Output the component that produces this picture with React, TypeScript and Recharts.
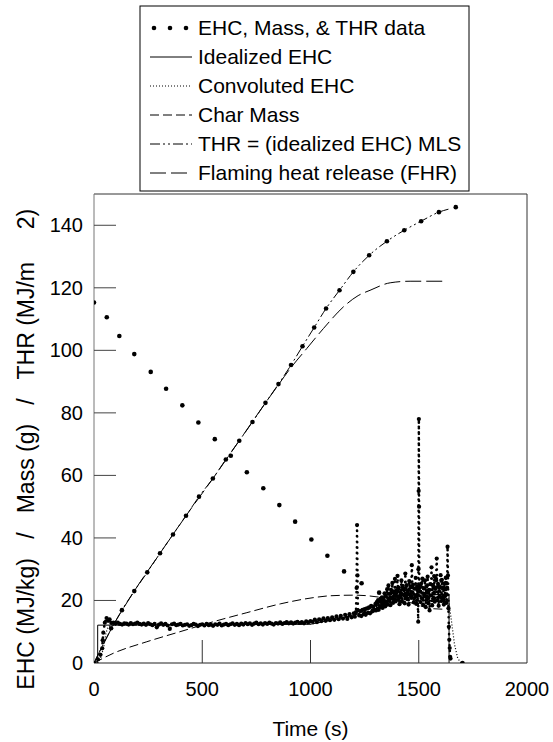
import React from 'react';
import { ComposedChart, Line, Scatter, XAxis, YAxis, ReferenceLine } from 'recharts';

const FONT = 'Arial, "Liberation Sans", Helvetica, sans-serif';

const timeTicks = [0, 500, 1000, 1500, 2000];
const valueTicks = [0, 20, 40, 60, 80, 100, 120, 140];

// measured EHC (MJ/kg) as [time, value]
const ehcPoints: [number, number][] = [
  [0, 0], [18, 1.2], [30, 2.6], [38, 4.7], [40, 7.3], [43, 9.7], [50, 12.9], [58, 14.4], [65, 13.5], [72, 14.0],
  [80, 12.8], [90, 12.9], [100, 12.6], [110, 12.9], [120, 12.5], [130, 12.3], [140, 12.7], [150, 12.6], [160, 12.3],
  [170, 12.8], [180, 12.4], [190, 12.6], [200, 12.9], [210, 12.5], [220, 12.3], [230, 12.6], [240, 12.2], [250, 12.8],
  [260, 12.4], [270, 12.1], [280, 12.5], [290, 11.4], [300, 12.3], [310, 12.7], [320, 12.2], [330, 12.5], [340, 12.0],
  [350, 10.9], [360, 12.4], [370, 12.6], [380, 12.1], [390, 12.3], [400, 12.5], [410, 12.0], [420, 12.2], [430, 12.4],
  [440, 11.9], [450, 12.1], [460, 12.5], [470, 12.3], [480, 11.8], [490, 12.2], [500, 12.4], [510, 12.0], [520, 12.5],
  [530, 12.1], [540, 12.3], [550, 11.9], [560, 12.4], [570, 12.2], [580, 12.6], [590, 12.0], [600, 12.3], [610, 12.5],
  [620, 12.1], [630, 12.4], [640, 12.7], [650, 12.2], [660, 12.5], [670, 12.1], [680, 12.6], [690, 12.3], [700, 12.8],
  [710, 12.4], [720, 12.7], [730, 12.2], [740, 12.6], [750, 12.9], [760, 12.4], [770, 12.7], [780, 12.3], [790, 12.8],
  [800, 12.5], [810, 12.9], [820, 12.6], [830, 12.3], [840, 12.8], [850, 12.6], [860, 13.0], [870, 12.5], [880, 12.8],
  [890, 13.1], [900, 12.7], [910, 13.0], [920, 12.6], [930, 12.9], [940, 13.2], [950, 12.8], [960, 13.1], [970, 12.7],
  [980, 13.3], [990, 13.0], [1000, 13.4], [1010, 13.2], [1020, 13.9], [1030, 13.1], [1040, 14.0], [1050, 13.4],
  [1060, 14.3], [1070, 13.5], [1080, 14.4], [1090, 13.7], [1100, 14.6], [1110, 13.8], [1120, 14.9], [1130, 14.0],
  [1140, 15.1], [1150, 14.2], [1160, 15.4], [1170, 14.1], [1180, 15.6], [1190, 14.6], [1200, 15.9], [1205, 14.8],
  [1210, 16.3], [1213, 24.0], [1215, 44.1], [1217, 28.0], [1219, 16.8], [1225, 15.2], [1230, 16.6], [1235, 15.0],
  [1240, 17.0], [1245, 15.6], [1250, 17.2], [1255, 15.4], [1260, 17.5], [1265, 16.0], [1270, 17.8], [1275, 15.9],
  [1280, 18.3], [1285, 16.5], [1290, 18.0], [1295, 16.8],
  [1300, 18.9], [1303, 16.8], [1306, 19.5], [1309, 17.3], [1312, 20.1], [1315, 17.0], [1318, 19.8], [1321, 17.9],
  [1324, 20.6], [1327, 18.2], [1330, 21.0], [1333, 17.6], [1336, 20.4], [1339, 18.8], [1342, 22.3], [1345, 18.1],
  [1348, 21.5], [1351, 19.4], [1354, 23.6], [1357, 18.7], [1360, 24.8], [1363, 19.9], [1366, 22.1], [1369, 18.5],
  [1372, 23.4], [1375, 20.6], [1378, 25.6], [1381, 19.2], [1384, 22.8], [1387, 20.1], [1390, 26.9], [1393, 19.7],
  [1396, 23.2], [1399, 21.4], [1402, 27.9], [1405, 20.2], [1408, 24.1], [1411, 18.8], [1414, 22.6], [1417, 20.9],
  [1420, 26.4], [1423, 19.6], [1426, 24.7], [1429, 21.8], [1432, 23.3], [1435, 19.1], [1438, 28.6], [1441, 21.2],
  [1444, 24.9], [1447, 20.4], [1450, 23.1], [1453, 18.7], [1456, 26.2], [1459, 21.9], [1462, 24.4], [1465, 20.8],
  [1468, 31.3], [1471, 22.6], [1474, 25.1], [1477, 19.4], [1480, 23.8], [1483, 21.0], [1486, 27.2], [1489, 18.9],
  [1492, 24.6], [1495, 21.7], [1497.5, 13.2], [1498.5, 30.0], [1499.5, 55.0], [1500.5, 78.0], [1501.5, 50.0],
  [1502.5, 24.0], [1505, 22.8], [1508, 19.5], [1511, 25.4], [1514, 20.7], [1517, 27.0], [1520, 18.6], [1523, 23.9],
  [1526, 21.3], [1529, 26.4], [1532, 17.9], [1535, 24.5], [1538, 20.2], [1541, 27.6], [1544, 19.1], [1547, 23.4],
  [1550, 16.8], [1553, 25.2], [1556, 21.6], [1559, 30.6], [1562, 18.4], [1565, 24.9], [1568, 20.7], [1571, 27.8],
  [1574, 19.6], [1577, 23.7], [1580, 26.9], [1583, 33.4], [1586, 20.1], [1589, 25.3], [1592, 18.3], [1595, 24.0],
  [1598, 21.2], [1601, 28.1], [1604, 19.8], [1607, 26.6], [1610, 20.9], [1613, 24.2], [1616, 18.7], [1619, 25.5],
  [1622, 21.4], [1625, 27.3], [1628, 19.2], [1631, 24.1], [1633, 37.2], [1635, 28.0], [1637, 17.5], [1639, 11.6],
  [1641, 7.4], [1643, 4.8], [1645, 2.0], [1647, 1.4],
];

// specimen mass (g)
const massTime = [0, 59, 117, 186, 262, 333, 408, 482, 558, 632, 706, 782, 856, 929, 1004, 1078, 1155, 1236, 1317, 1390, 1465, 1540, 1615, 1702];
const massValue = [115.3, 110.6, 104.6, 98.8, 93.1, 87.7, 82.4, 76.9, 71.6, 66.3, 61.0, 55.9, 50.5, 45.2, 39.5, 34.3, 29.3, 25.5, 22.5, 21.8, 21.3, 20.8, 20.3, 0];

// total heat release (MJ/m2), measured points
const thrTime = [0, 79, 129, 186, 246, 305, 365, 425, 485, 549, 609, 671, 732, 792, 852, 910, 963, 1017, 1072, 1134, 1198, 1271, 1353, 1433, 1511, 1593, 1671];
const thrValue = [0, 11.1, 16.9, 23.0, 29.0, 35.1, 41.1, 47.1, 53.2, 59.0, 65.1, 71.1, 77.1, 83.2, 89.2, 95.3, 101.3, 107.3, 113.4, 119.2, 125.1, 130.4, 134.9, 138.4, 141.3, 144.2, 145.8];

// THR model line = (idealized EHC) x MLS
const thrModelTime = [0, 79, 129, 186, 246, 305, 365, 425, 485, 549, 609, 671, 732, 792, 852, 910, 963, 1017, 1072, 1134, 1198, 1271, 1353, 1433, 1511, 1593, 1640];
const thrModelValue = [0, 10.8, 16.9, 23.0, 29.0, 35.1, 41.1, 47.1, 53.2, 59.0, 65.1, 71.1, 77.1, 83.2, 89.2, 95.3, 101.3, 107.3, 113.4, 119.2, 125.1, 130.4, 134.9, 138.4, 141.3, 144.2, 145.2];

// flaming heat release
const fhrTime = [0, 79, 186, 305, 425, 549, 671, 792, 852, 900, 983, 1060, 1160, 1220, 1275, 1368, 1460, 1620];
const fhrValue = [0, 10.8, 23.0, 35.1, 47.1, 59.0, 71.1, 83.2, 89.0, 93.6, 100.6, 107.0, 114.4, 117.5, 119.2, 121.6, 122.1, 122.1];

// idealized EHC (pulse, runs inside the data band late in the test)
const idealTime = [0, 17, 17, 1000, 1100, 1200, 1300, 1400, 1640, 1640];
const idealValue = [0, 0, 12.1, 12.4, 13.8, 15.2, 18.2, 21.5, 22.0, 0];

// convoluted EHC
const convTime = [17, 30, 45, 55, 65, 80, 1000, 1100, 1200, 1300, 1400, 1635, 1650, 1665, 1680, 1695];
const convValue = [0, 1.5, 5.0, 9.5, 11.6, 12.1, 12.4, 13.8, 15.2, 18.2, 21.5, 22.0, 14.0, 6.0, 1.5, 0];

// char mass (g)
const charTime = [0, 89, 244, 397, 551, 706, 860, 1013, 1091, 1206, 1353, 1450, 1560, 1620];
const charValue = [0, 3.1, 6.8, 10.0, 13.2, 16.1, 18.9, 20.9, 21.5, 21.7, 20.7, 19.5, 17.4, 17.2];

const zip = (ts: number[], vs: number[]) => ts.map((t, i) => ({ t, v: vs[i] }));

const ehcData = ehcPoints.map(([t, v]) => ({ t, v }));
const massData = zip(massTime, massValue);
const thrData = zip(thrTime, thrValue);
const thrModelData = zip(thrModelTime, thrModelValue);
const fhrData = zip(fhrTime, fhrValue);
const idealData = zip(idealTime, idealValue);
const convData = zip(convTime, convValue);
const charData = zip(charTime, charValue);

const legendItems = [
  { label: 'EHC, Mass, & THR data', dash: 'dots' },
  { label: 'Idealized EHC', dash: '' },
  { label: 'Convoluted EHC', dash: '1 2' },
  { label: 'Char Mass', dash: '9 4' },
  { label: 'THR = (idealized EHC) MLS', dash: '10 3 2 3 2 3' },
  { label: 'Flaming heat release (FHR)', dash: '16 5' },
];

function TimeTick({ x, y, payload }: any) {
  return (
    <g>
      {payload.value > 0 && payload.value < 2000 && (
        <line x1={x} y1={y} x2={x} y2={y - 23} stroke="#333" />
      )}
      <text x={x} y={y + 33} textAnchor="middle" fontSize={20} fontFamily={FONT} fill="#000">
        {payload.value}
      </text>
    </g>
  );
}

function ValueTick({ x, y, payload }: any) {
  return (
    <g>
      {payload.value > 0 && <line x1={x} y1={y} x2={x + 22} y2={y} stroke="#444" />}
      <text x={x - 11} y={y + 7} textAnchor="end" fontSize={20} fontFamily={FONT} fill="#000">
        {payload.value}
      </text>
    </g>
  );
}

const dotShape = (p: any) => <circle cx={p.cx} cy={p.cy} r={2.3} fill="#000" />;

function Overlay() {
  return (
    <svg width={553} height={742} style={{ position: 'absolute', left: 0, top: 0, pointerEvents: 'none' }}>
      {/* legend */}
      <rect x={140} y={6} width={329} height={185} fill="#fff" stroke="#000" strokeWidth={1} />
      {legendItems.map((item, i) => {
        const cy = 28 + i * 29;
        return (
          <g key={item.label}>
            {item.dash === 'dots' ? (
              [154, 170, 186].map((cx) => <circle key={cx} cx={cx} cy={cy} r={2.3} fill="#000" />)
            ) : (
              <line x1={150} y1={cy} x2={192} y2={cy} stroke="#000" strokeWidth={1} strokeDasharray={item.dash || undefined} />
            )}
            <text x={198} y={cy + 7} fontSize={21} fontFamily={FONT} fill="#000">
              {item.label}
            </text>
          </g>
        );
      })}
      {/* y axis title */}
      <text
        transform="translate(34,262) rotate(-90)"
        textAnchor="end"
        fontSize={23}
        fontFamily={FONT}
        fill="#000"
        style={{ whiteSpace: 'pre' }}
      >
        {'EHC (MJ/kg)   /   Mass (g)   /   THR (MJ/m'}
      </text>
      <text transform="translate(34,219) rotate(-90)" textAnchor="middle" fontSize={23} fontFamily={FONT} fill="#000">
        2)
      </text>
    </svg>
  );
}

export default function App() {
  return (
    <div style={{ position: 'absolute', left: 0, top: 0, width: 553, height: 742, background: '#fff' }}>
      <ComposedChart width={553} height={742} margin={{ top: 194, right: 26, bottom: 0, left: 0 }}>
        <XAxis
          type="number"
          dataKey="t"
          domain={[0, 2000]}
          ticks={timeTicks}
          allowDataOverflow
          height={79}
          tickSize={0}
          tickMargin={0}
          tickLine={false}
          axisLine={{ stroke: '#222' }}
          tick={<TimeTick />}
          label={{ value: 'Time (s)', position: 'insideBottom', offset: 6, fontSize: 21, fontFamily: FONT, fill: '#000' }}
        />
        <YAxis
          type="number"
          domain={[0, 150]}
          ticks={valueTicks}
          allowDataOverflow
          width={94}
          tickSize={0}
          tickMargin={0}
          tickLine={false}
          axisLine={{ stroke: '#777' }}
          tick={<ValueTick />}
        />
        <ReferenceLine y={150} stroke="#333" />
        <ReferenceLine x={2000} stroke="#333" />

        <Line data={idealData} dataKey="v" stroke="#000" strokeWidth={1} dot={false} isAnimationActive={false} type="linear" />
        <Line data={convData} dataKey="v" stroke="#000" strokeWidth={1.2} strokeDasharray="1 2" dot={false} isAnimationActive={false} type="linear" />
        <Line data={charData} dataKey="v" stroke="#000" strokeWidth={1} strokeDasharray="9 4" dot={false} isAnimationActive={false} type="monotone" />
        <Line data={fhrData} dataKey="v" stroke="#000" strokeWidth={1} strokeDasharray="16 5" dot={false} isAnimationActive={false} type="monotone" />
        <Line data={thrModelData} dataKey="v" stroke="#000" strokeWidth={1} strokeDasharray="10 3 2 3 2 3" dot={false} isAnimationActive={false} type="monotone" />
        <Line
          data={ehcData}
          dataKey="v"
          stroke="#000"
          strokeWidth={2.6}
          strokeDasharray="0.1 5.5"
          strokeLinecap="round"
          dot={{ r: 2.1, fill: '#000', stroke: 'none' }}
          isAnimationActive={false}
          type="linear"
        />
        <Scatter data={massData} dataKey="v" shape={dotShape} isAnimationActive={false} />
        <Scatter data={thrData} dataKey="v" shape={dotShape} isAnimationActive={false} />
      </ComposedChart>
      <Overlay />
    </div>
  );
}
